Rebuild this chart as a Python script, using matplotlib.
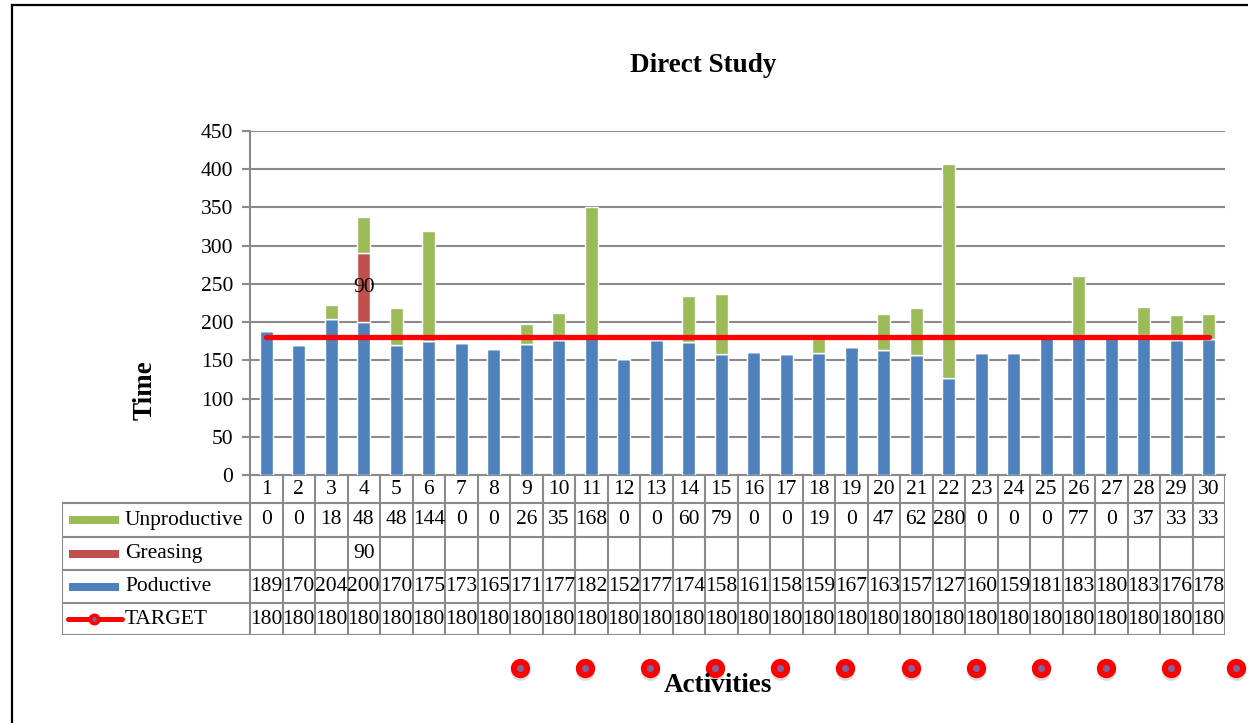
import matplotlib
matplotlib.use("Agg")
import matplotlib.pyplot as plt
from matplotlib.lines import Line2D
import numpy as np

plt.rcParams['font.family'] = ['Liberation Serif', 'DejaVu Serif']

# activity study data
activities = list(range(1, 31))
unproductive = [0, 0, 18, 48, 48, 144, 0, 0, 26, 35, 168, 0, 0, 60, 79,
                0, 0, 19, 0, 47, 62, 280, 0, 0, 0, 77, 0, 37, 33, 33]
greasing = [None, None, None, 90] + [None] * 26
productive = [189, 170, 204, 200, 170, 175, 173, 165, 171, 177, 182, 152, 177, 174, 158,
              161, 158, 159, 167, 163, 157, 127, 160, 159, 181, 183, 180, 183, 176, 178]
target = [180] * 30
yticks = [0, 50, 100, 150, 200, 250, 300, 350, 400, 450]

c_blue = '#4F81BD'
c_red = '#C0504D'
c_green = '#9BBB59'
c_grid = '#8A8A8A'
fs = 15.5
fs_head = 19.5

W, H = 1248, 723
fig = plt.figure(figsize=(W / 100, H / 100), dpi=100)

def fx(px):
    return px / W

def fy(py):
    return 1 - py / H

# outer frame
fig.add_artist(Line2D([fx(12), fx(12)], [fy(5), 0], color='black', lw=1.6, transform=fig.transFigure))
fig.add_artist(Line2D([fx(12), 1], [fy(5), fy(5)], color='black', lw=1.6, transform=fig.transFigure))

ax = fig.add_axes([fx(250), fy(475), (1225 - 250) / W, (475 - 131) / H])
x = np.array(activities)
grease = np.array([g if g is not None else 0 for g in greasing])
prod = np.array(productive)
unp = np.array(unproductive)

ax.bar(x, prod, width=0.4, color=c_blue, edgecolor='white', linewidth=1, zorder=3)
ax.bar(x, grease, width=0.4, bottom=prod, color=c_red, edgecolor='white', linewidth=1, zorder=3)
ax.bar(x, unp, width=0.4, bottom=prod + grease, color=c_green, edgecolor='white', linewidth=1, zorder=3)
ax.plot(x, target, color='#FF0000', lw=3.8, solid_capstyle='round', zorder=4)

for i, g in enumerate(greasing):
    if g is not None:
        ax.text(x[i], prod[i] + g / 2, str(g), ha='center', va='center', fontsize=fs, zorder=5)

ax.set_xlim(0.5, 30.5)
ax.set_ylim(0, 450)
ax.set_yticks(yticks)
ax.set_yticklabels([str(v) for v in yticks], fontsize=fs)
ax.set_xticks([])
ax.yaxis.grid(True, color=c_grid, lw=1.5, zorder=0)
ax.tick_params(axis='y', length=6, color=c_grid, width=1.5, pad=6)
for s in ['top', 'right']:
    ax.spines[s].set_visible(False)
for s in ['left', 'bottom']:
    ax.spines[s].set_color(c_grid)
    ax.spines[s].set_linewidth(1.5)

fig.text(fx(703), fy(65), 'Direct Study', ha='center', va='center', fontsize=fs_head, fontweight='bold')
fig.text(fx(145), fy(390), 'Time', ha='center', va='center', fontsize=fs_head, fontweight='bold', rotation=90)
fig.text(fx(718), fy(685), 'Activities', ha='center', va='center', fontsize=fs_head, fontweight='bold')

# data table under the axis
col_w = 32.5
left_units = 188 / col_w
tax = fig.add_axes([fx(62), fy(635), (1225 - 62) / W, 160 / H])
tax.set_xlim(0.5 - left_units, 30.5)
tax.set_ylim(160, 0)
tax.axis('off')
rows = [0, 28, 62, 95, 128, 160]
tl = dict(color=c_grid, lw=1.5, solid_capstyle='butt')
for yr in rows[1:]:
    tax.plot([0.5 - left_units, 30.5], [yr, yr], **tl)
for k in range(31):
    tax.plot([0.5 + k, 0.5 + k], [0, 160], **tl)
tax.plot([0.5 - left_units, 0.5 - left_units], [28, 160], **tl)

def ux(px):
    return 0.5 + (px - 250) / col_w

for i, a in enumerate(activities):
    tax.text(a, 14, str(a), ha='center', va='center', fontsize=fs)
    tax.text(a, 45, str(unproductive[i]), ha='center', va='center', fontsize=fs)
    if greasing[i] is not None:
        tax.text(a, 78.5, str(greasing[i]), ha='center', va='center', fontsize=fs)
    tax.text(a, 111.5, str(productive[i]), ha='center', va='center', fontsize=fs)
    tax.text(a, 144, str(target[i]), ha='center', va='center', fontsize=fs)

series = [('Unproductive', c_green, 45), ('Greasing', c_red, 78.5), ('Poductive', c_blue, 111.5)]
for name, col, yr in series:
    tax.plot([ux(69), ux(119)], [yr, yr], color=col, lw=5.8, solid_capstyle='butt')
    tax.text(ux(125), yr, name, ha='left', va='center', fontsize=fs)
tax.plot([ux(68), ux(122)], [144, 144], color='#FF0000', lw=3.6, solid_capstyle='round')
tax.plot([ux(94)], [144], marker='o', ms=6, mew=2.6, mec='#FF0000', mfc='#8064A2')
tax.text(ux(125), 144, 'TARGET', ha='left', va='center', fontsize=fs)

# stray target markers below the table
max_ = fig.add_axes([fx(510), fy(690), (1246 - 510) / W, 44 / H])
max_.axis('off')
mk = np.arange(12)
max_.set_xlim(-0.16, 11.16)
max_.set_ylim(-1, 1)
max_.plot(mk, np.zeros(12) - 0.14, ls='none', marker='o', ms=10, mew=3.5, mec='#BBBBBB', mfc='#BBBBBB', alpha=0.5)
max_.plot(mk, np.zeros(12), ls='none', marker='o', ms=9.5, mew=4.4, mec='#FF0000', mfc='#8064A2')

fig.savefig('out.png', dpi=100)
